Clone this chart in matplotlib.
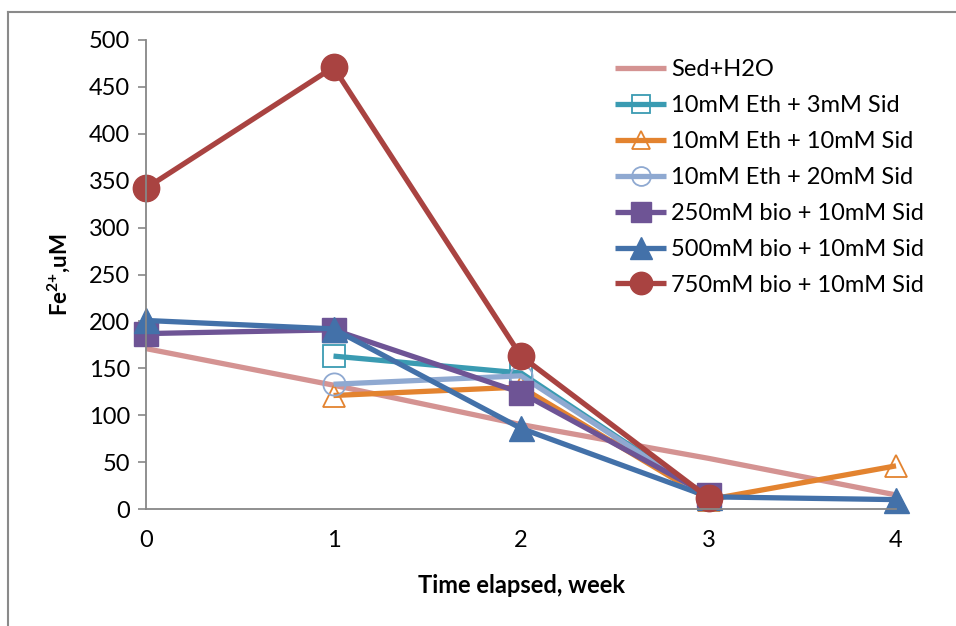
import numpy as np
import matplotlib
matplotlib.use("Agg")
import matplotlib.pyplot as plt
from matplotlib.lines import Line2D

weeks = [0, 1, 2, 3, 4]
labels = ["Sed+H2O", "10mM Eth + 3mM Sid", "10mM Eth + 10mM Sid",
          "10mM Eth + 20mM Sid", "250mM bio + 10mM Sid",
          "500mM bio + 10mM Sid", "750mM bio + 10mM Sid"]
nan = np.nan
sed_h2o = [171, 132, 90, 54, 15]
eth_3 = [nan, 163, 145, 12, nan]
eth_10 = [nan, 121, 130, 10, 46]
eth_20 = [nan, 133, 142, 12, nan]
bio_250 = [187, 191, 124, 15, nan]
bio_500 = [201, 192, 86, 13, 10]
bio_750 = [342, 471, 163, 12, nan]
series = [sed_h2o, eth_3, eth_10, eth_20, bio_250, bio_500, bio_750]

colors = ["#D49392", "#3A9BB2", "#E3832F", "#8FA9D1", "#6E5495", "#4371A9", "#A94341"]
markers = [None, "s", "^", "o", "s", "^", "o"]
filled = [True, False, False, False, True, True, True]
msizes = [0, 16, 16, 16, 17, 18, 19]

plt.rcParams["font.family"] = ["Lato", "DejaVu Sans"]
plt.rcParams["mathtext.fontset"] = "custom"
plt.rcParams["mathtext.rm"] = "Lato"
plt.rcParams["mathtext.bf"] = "Lato:bold"
fig = plt.figure(figsize=(9.56, 6.26), dpi=100)
ax = fig.add_axes([146/956, 1-509/626, (896-146)/956, (509-40)/626])

handles = []
for vals, lab, c, m, f, ms in zip(series, labels, colors, markers, filled, msizes):
    y = np.array(vals, dtype=float)
    kw = dict(color=c, lw=3.8, label=lab, solid_capstyle="butt", clip_on=False)
    if m is not None:
        kw.update(marker=m, markersize=ms, markeredgecolor=c,
                  markerfacecolor=c if f else "none",
                  markeredgewidth=1.0 if f else 1.3)
    h, = ax.plot(weeks, y, **kw)
    handles.append(h)

ax.set_xlim(0, 4)
ax.set_ylim(0, 500)
ax.set_xticks(weeks)
ax.set_yticks(np.arange(0, 501, 50))
for s in ["top", "right"]:
    ax.spines[s].set_visible(False)
for s in ["left", "bottom"]:
    ax.spines[s].set_color("#878787")
    ax.spines[s].set_linewidth(1.3)
ax.tick_params(axis="y", length=5.5, width=1.2, color="#878787", labelsize=17, pad=6)
ax.tick_params(axis="x", length=0, labelsize=17, pad=15)
ax.set_xlabel("Time elapsed, week", fontsize=17, fontweight="bold", labelpad=17)
ax.set_ylabel("Fe$^{\\mathbf{2{+}}}$,uM", fontsize=16, fontweight="bold", labelpad=12)

leg = ax.legend(handles=handles, loc="upper left", bbox_to_anchor=(606/956, 1-50/626),
                bbox_transform=fig.transFigure, frameon=False, fontsize=17,
                handlelength=2.15, labelspacing=0.63, handletextpad=0.2,
                borderaxespad=0, markerscale=1.0)
for lh in leg.legend_handles:
    lh.set_markersize(lh.get_markersize() * 0.85)

# outer border
fig.add_artist(Line2D([8/956, 8/956], [0, 1-12/626], transform=fig.transFigure,
                      color="#8a8a8a", lw=1.5))
fig.add_artist(Line2D([8/956, 1], [1-12/626, 1-12/626], transform=fig.transFigure,
                      color="#8a8a8a", lw=1.5))

fig.savefig("out.png", dpi=100)
